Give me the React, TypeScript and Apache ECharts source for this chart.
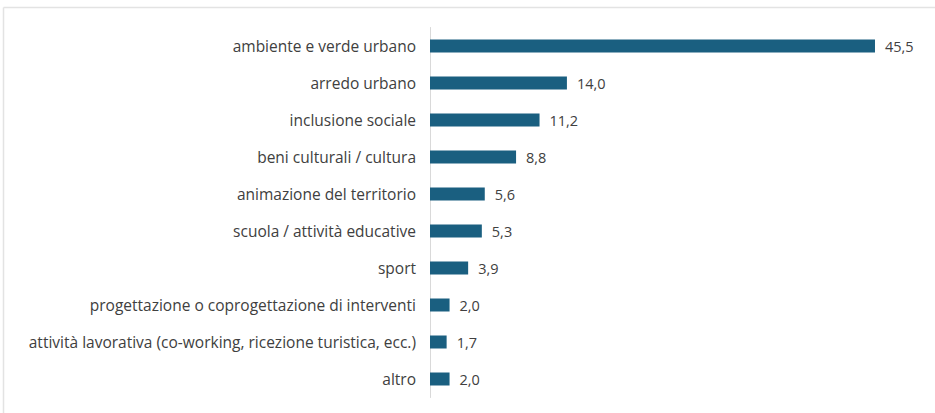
import React, { useEffect, useRef } from "react";
import * as echarts from "echarts";

const categories = [
  "ambiente e verde urbano",
  "arredo urbano",
  "inclusione sociale",
  "beni culturali / cultura",
  "animazione del territorio",
  "scuola / attività educative",
  "sport",
  "progettazione o coprogettazione di interventi",
  "attività lavorativa (co-working, ricezione turistica, ecc.)",
  "altro",
];
const values = [45.5, 14.0, 11.2, 8.8, 5.6, 5.3, 3.9, 2.0, 1.7, 2.0];

export default function App() {
  const ref = useRef<HTMLDivElement>(null);
  useEffect(() => {
    if (!ref.current) return;
    const chart = echarts.init(ref.current, null, { renderer: "svg" });
    chart.setOption({
      animation: false,
      backgroundColor: "#ffffff",
      textStyle: { fontFamily: "Open Sans" },
      graphic: [
        { type: "line", shape: { x1: 3.5, y1: 7.5, x2: 935, y2: 7.5 }, style: { stroke: "#e3e3e3", lineWidth: 1.5 } },
        { type: "line", shape: { x1: 3.5, y1: 7.5, x2: 3.5, y2: 413 }, style: { stroke: "#e3e3e3", lineWidth: 1.5 } },
      ],
      grid: { left: 430, top: 27.5, width: 489, height: 370, containLabel: false },
      xAxis: {
        type: "value",
        min: 0,
        max: 50,
        show: false,
      },
      yAxis: {
        type: "category",
        data: categories,
        inverse: true,
        axisLine: { show: true, lineStyle: { color: "#d9d9d9", width: 1 } },
        axisTick: { show: false },
        axisLabel: { color: "#404040", fontSize: 15.5, margin: 14, fontFamily: "Open Sans" },
      },
      series: [
        {
          type: "bar",
          data: values,
          barWidth: 13,
          itemStyle: { color: "#1a5f80" },
          label: {
            show: true,
            position: "right",
            distance: 10,
            color: "#404040",
            fontSize: 14.5,
            fontFamily: "Open Sans",
            formatter: (p: any) => p.value.toFixed(1).replace(".", ","),
          },
        },
      ],
    });
    return () => chart.dispose();
  }, []);
  return (
    <div
      ref={ref}
      style={{ position: "absolute", left: 0, top: 0, width: 935, height: 413 }}
    />
  );
}
